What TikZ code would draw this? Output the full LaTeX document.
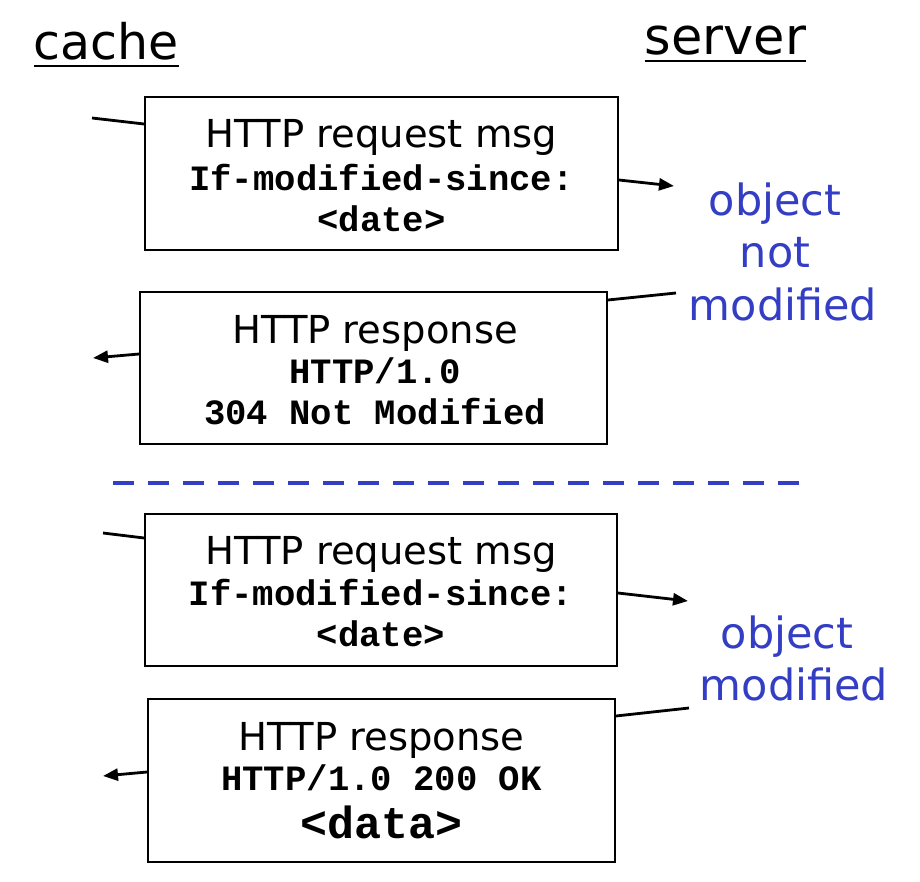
\documentclass[tikz,border=0pt]{standalone}
\usepackage{fontspec}
\setmainfont{DejaVu Sans}
\setmonofont{Liberation Mono}
\usetikzlibrary{arrows.meta}
\definecolor{noteblue}{RGB}{52,62,196}
\begin{document}
\begin{tikzpicture}[x=1pt,y=-1pt,
  msgbox/.style={draw=black,line width=1.8pt,fill=white,inner sep=0pt},
  title/.style={font=\fontsize{49}{52}\selectfont,anchor=base,inner sep=0pt},
  head/.style={font=\fontsize{38.5}{42}\selectfont,anchor=base,inner sep=0pt},
  code/.style={font=\fontsize{35.6}{40}\selectfont\ttfamily\bfseries,anchor=base,inner sep=0pt},
  bigcode/.style={font=\fontsize{45}{50}\selectfont\ttfamily\bfseries,anchor=base,inner sep=0pt},
  note/.style={font=\fontsize{43}{48}\selectfont,text=noteblue,anchor=base,inner sep=0pt},
  wire/.style={line width=2.8pt},
  msgarrow/.style={line width=2.8pt,-{Triangle[length=15pt,width=12pt]}},
  underl/.style={line width=2.8pt}
]
\useasboundingbox (0,0) rectangle (920,882);

% titles
\node[title] (cache) at (106.5,60) {cache};
\node[font=\fontsize{51}{54}\selectfont,anchor=base,inner sep=0pt] (server) at (725.5,55) {server};
\draw[underl] ([yshift=-6pt]cache.base west) -- ([yshift=-6pt]cache.base east);
\draw[underl] ([yshift=-6pt]server.base west) -- ([yshift=-6pt]server.base east);

% box 1
\node[msgbox,minimum width=473pt,minimum height=153pt] (b1) at (381.5,173.5) {};
\node[head] (b1a) at (381.5,148) {HTTP request msg};
\node[code] (b1b) at (381.5,191) {If-modified-since:};
\node[code] (b1c) at (381.5,232) {<date>};

% box 2
\node[msgbox,minimum width=467pt,minimum height=152pt] (b2) at (373.5,368) {};
\node[head] (b2a) at (375,343) {HTTP response};
\node[code] (b2b) at (375,383) {HTTP/1.0};
\node[code] (b2c) at (375,424) {304 Not Modified};

% separator
\coordinate (sepL) at (113,483);
\coordinate (sepR) at (805,483);
\draw[noteblue,line width=4.5pt,dash pattern=on 21pt off 14pt] (sepL) -- (sepR);

% box 3
\node[msgbox,minimum width=472pt,minimum height=152pt] (b3) at (381,590) {};
\node[head] (b3a) at (381,564) {HTTP request msg};
\node[code] (b3b) at (381,605) {If-modified-since:};
\node[code] (b3c) at (381,646) {<date>};

% box 4
\node[msgbox,minimum width=467pt,minimum height=163pt] (b4) at (381.5,780.5) {};
\node[head] (b4a) at (381.5,750) {HTTP response};
\node[code] (b4b) at (381.5,790) {HTTP/1.0 200 OK};
\node[bigcode] (b4c) at (381.5,838) {<data>};

% notes
\node[note] (n1a) at (775,216) {object};
\node[note] (n1b) at (775,268) {not};
\node[note] (n1c) at (783,320) {modified};
\node[note] (n2a) at (787,648) {object};
\node[note] (n2b) at (794,700) {modified};

% connectors
\coordinate (l1) at (92,118);
\coordinate (a1) at (674,186);
\coordinate (l2) at (676,293);
\coordinate (a2) at (93,358);
\coordinate (l3) at (103,533);
\coordinate (a3) at (688,601);
\coordinate (l4) at (689,708);
\coordinate (a4) at (103,776);

\draw[wire] (l1) -- (b1.west |- 0,124);
\draw[msgarrow] (b1.east |- 0,180) -- (a1);
\draw[wire] (l2) -- (b2.east |- 0,300);
\draw[msgarrow] (b2.west |- 0,354) -- (a2);
\draw[wire] (l3) -- (b3.west |- 0,538);
\draw[msgarrow] (b3.east |- 0,593) -- (a3);
\draw[wire] (l4) -- (b4.east |- 0,716);
\draw[msgarrow] (b4.west |- 0,772) -- (a4);
\end{tikzpicture}
\end{document}
